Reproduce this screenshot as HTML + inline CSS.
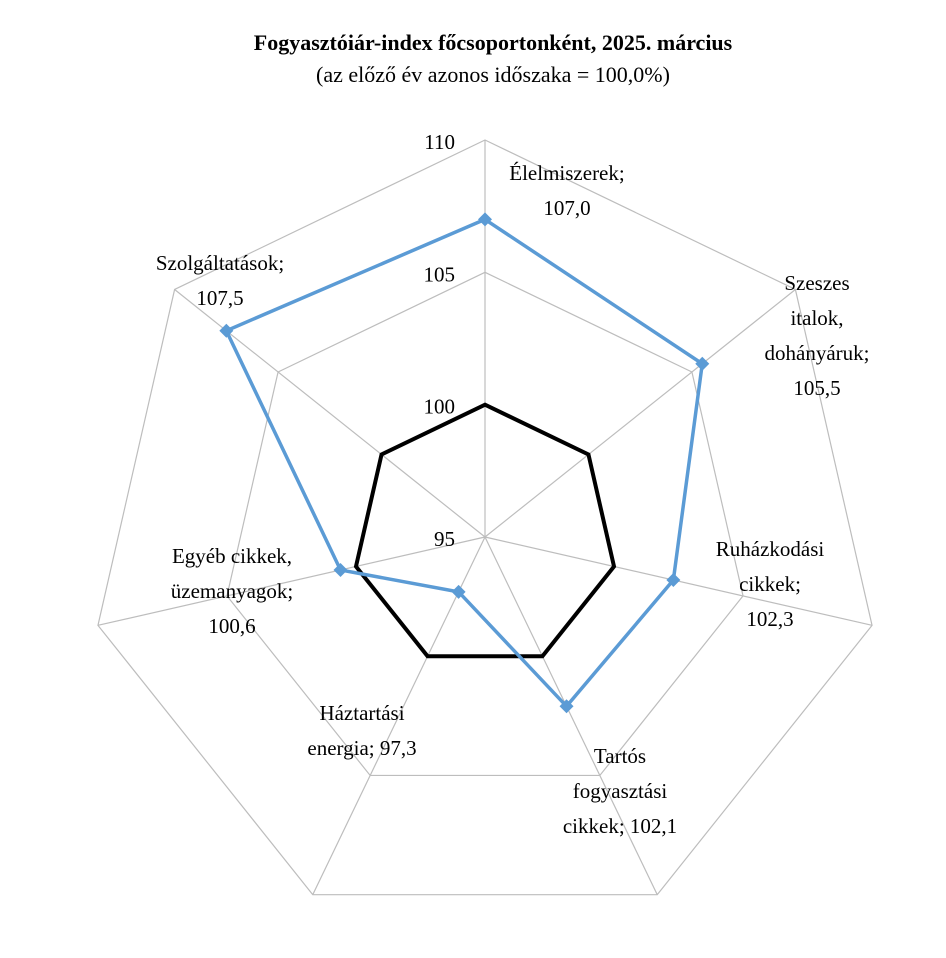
<!DOCTYPE html>
<html><head><meta charset="utf-8">
<style>
html,body{margin:0;padding:0;background:#fff;}
svg text{font-family:"Liberation Serif",serif;fill:#000;}
</style></head>
<body>
<svg id="chart" width="946" height="953" xmlns="http://www.w3.org/2000/svg">
<text x="493" y="50" text-anchor="middle" font-size="22" font-weight="bold">Fogyasztóiár-index főcsoportonként, 2025. március</text>
<text x="493" y="82" text-anchor="middle" font-size="22">(az előző év azonos időszaka = 100,0%)</text>
<g id="grid"></g>
<g id="ref"></g>
<g id="series"></g>
<g id="labels"></g>
</svg>
<script>
const categories = ["Élelmiszerek","Szeszes italok, dohányáruk","Ruházkodási cikkek","Tartós fogyasztási cikkek","Háztartási energia","Egyéb cikkek, üzemanyagok","Szolgáltatások"];
const values = [107.0,105.5,102.3,102.1,97.3,100.6,107.5];
const referenceValues = [100,100,100,100,100,100,100];
const ticks = [95,100,105,110];
const tickLabels = ["95","100","105","110"];
const catLabelLines = [
 ["Élelmiszerek;","107,0"],
 ["Szeszes","italok,","dohányáruk;","105,5"],
 ["Ruházkodási","cikkek;","102,3"],
 ["Tartós","fogyasztási","cikkek;  102,1"],
 ["Háztartási","energia;  97,3"],
 ["Egyéb cikkek,","üzemanyagok;","100,6"],
 ["Szolgáltatások;","107,5"]
];
const NS="http://www.w3.org/2000/svg";
const cx=485, cy=537, R=397, vmin=95, vmax=110;
const n=categories.length;
function rScale(v){return (v-vmin)/(vmax-vmin)*R;}
function pt(i,v){const a=i*2*Math.PI/n;const r=rScale(v);return [cx+r*Math.sin(a), cy-r*Math.cos(a)];}
function mk(tag,attrs,parent){const e=document.createElementNS(NS,tag);for(const k in attrs)e.setAttribute(k,attrs[k]);parent.appendChild(e);return e;}
const grid=document.getElementById('grid');
ticks.forEach((t,ti)=>{
  if(t===vmin) return;
  const p=mk('polygon',{points:categories.map((c,i)=>pt(i,t).join(',')).join(' '),fill:'none',stroke:'#bdbdbd','stroke-width':1.2},grid);
  
  
});
categories.forEach((c,i)=>{
  const [x,y]=pt(i,vmax);
  const l=mk('line',{x1:cx,y1:cy,x2:x,y2:y,stroke:'#bdbdbd','stroke-width':1.2},grid);
  
  
});
ticks.forEach((t,ti)=>{
  const y=cy-rScale(t);
  const tx=mk('text',{x:cx-30,y:y+9,'text-anchor':'end','font-size':21},grid);
  tx.textContent=tickLabels[ti];
  
  
});
const ref=document.getElementById('ref');
const rp=mk('polygon',{points:referenceValues.map((v,i)=>pt(i,v).join(',')).join(' '),fill:'none',stroke:'#000','stroke-width':4,'stroke-linejoin':'miter'},ref);


const ser=document.getElementById('series');
const sp=mk('polygon',{points:values.map((v,i)=>pt(i,v).join(',')).join(' '),fill:'none',stroke:'#5b9bd5','stroke-width':3.5},ser);


values.forEach((v,i)=>{
  const [x,y]=pt(i,v);const s=7;
  const d=mk('polygon',{points:`${x},${y-s} ${x+s},${y} ${x},${y+s} ${x-s},${y}`,fill:'#5b9bd5'},ser);
  
  
});
const labelPos=[[567,180],[817,290],[770,556],[620,763],[362,720],[232,563],[220,270]];
const lab=document.getElementById('labels');
catLabelLines.forEach((lines,i)=>{
  const t=mk('text',{x:labelPos[i][0],y:labelPos[i][1],'text-anchor':'middle','font-size':21},lab);
  
  
  lines.forEach((ln,j)=>{const s=mk('tspan',{x:labelPos[i][0],dy:j?35:0},t);s.textContent=ln;});
});
</script>
</body></html>
